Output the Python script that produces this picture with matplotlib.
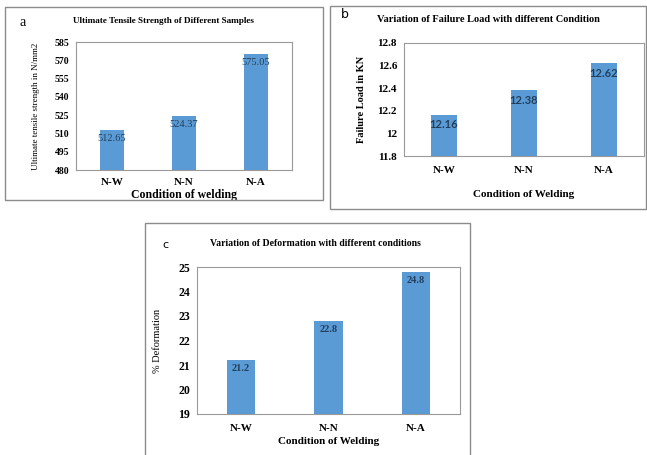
import matplotlib.pyplot as plt
from matplotlib.patches import Rectangle

# Data
conditions = ['N-W', 'N-N', 'N-A']
uts = [512.65, 524.37, 575.05]
uts_labels = ['512.65', '524.37', '575.05']
uts_ticks = [480, 495, 510, 525, 540, 555, 570, 585]
load = [12.16, 12.38, 12.62]
load_labels = ['12.16', '12.38', '12.62']
load_ticks = [11.8, 12.0, 12.2, 12.4, 12.6, 12.8]
load_ticklabels = ['11.8', '12', '12.2', '12.4', '12.6', '12.8']
deform = [21.2, 22.8, 24.8]
deform_labels = ['21.2', '22.8', '24.8']
deform_ticks = [19, 20, 21, 22, 23, 24, 25]

W, H = 647, 455
bar_color = '#5B9BD5'
lbl_color = '#22405E'
serif = 'Liberation Serif'

fig = plt.figure(figsize=(W / 100, H / 100), dpi=100)


def fx(x):
    return x / W


def fy(y):
    return 1 - y / H


def frame(x0, y0, x1, y1):
    fig.patches.append(Rectangle((fx(x0), fy(y1)), fx(x1) - fx(x0), fy(y0) - fy(y1),
                                 transform=fig.transFigure, fill=False,
                                 edgecolor='#8C8C8C', linewidth=1.0))


def panel(box, vals, labels, ticks, ticklabels, lab_font, lab_size, lab_weight,
          tick_size, xpad):
    x0, y0, x1, y1 = box
    ax = fig.add_axes([fx(x0), fy(y1), fx(x1) - fx(x0), fy(y0) - fy(y1)])
    xs = range(len(conditions))
    ax.bar(xs, vals, width=0.32, color=bar_color, zorder=2)
    ax.set_xlim(-0.5, len(conditions) - 0.5)
    ax.set_ylim(ticks[0], ticks[-1])
    ax.set_yticks(ticks)
    ax.set_yticklabels(ticklabels, fontfamily=serif, fontsize=tick_size,
                       fontweight='bold')
    ax.set_xticks(list(xs))
    ax.set_xticklabels(conditions, fontfamily=serif, fontsize=8, fontweight='bold')
    ax.tick_params(axis='y', length=0, pad=5)
    ax.tick_params(axis='x', length=0, pad=xpad)
    for s in ax.spines.values():
        s.set_color('#9A9A9A')
        s.set_linewidth(0.8)
    for x, v, t in zip(xs, vals, labels):
        ax.annotate(t, (x, v), xytext=(0, -3), textcoords='offset points',
                    ha='center', va='top', fontsize=lab_size, color=lbl_color,
                    fontfamily=lab_font, fontweight=lab_weight)
    return ax


# Panel a
frame(5, 7, 323, 200)
ax_a = panel((76, 42, 292, 170), uts, uts_labels, uts_ticks,
             [str(t) for t in uts_ticks], serif, 7.5, 'normal', 7, 6)
ax_a.set_xlabel('Condition of welding', fontfamily=serif, fontsize=8.5,
                fontweight='bold', labelpad=1)
ax_a.set_ylabel('Ultimate tensile strength in N/mm2', fontfamily=serif,
                fontsize=6.5, labelpad=10)
fig.text(fx(163), fy(21), 'Ultimate Tensile Strength of Different Samples',
         ha='center', va='center', fontfamily=serif, fontsize=6.6, fontweight='bold')
fig.text(fx(23), fy(22), 'a', ha='center', va='center', fontfamily=serif, fontsize=10)

# Panel b
frame(330, 6, 646, 209)
ax_b = panel((404, 43, 644, 156), load, load_labels, load_ticks,
             load_ticklabels, 'Lato', 8, 'bold', 8, 7)
ax_b.set_xlabel('Condition of Welding', fontfamily=serif, fontsize=8,
                fontweight='bold', labelpad=11)
ax_b.set_ylabel('Failure Load in KN', fontfamily=serif, fontsize=7.5,
                fontweight='bold', labelpad=8)
fig.text(fx(488), fy(19), 'Variation of Failure Load with different Condition',
         ha='center', va='center', fontfamily=serif, fontsize=7.5, fontweight='bold')
fig.text(fx(345), fy(15), 'b', ha='center', va='center', fontfamily='DejaVu Sans', fontsize=9)

# Panel c
frame(145, 223, 470, 460)
ax_c = panel((197, 267, 460, 414), deform, deform_labels, deform_ticks,
             [str(t) for t in deform_ticks], serif, 7.5, 'bold', 8.5, 7)
ax_c.set_xlabel('Condition of Welding', fontfamily=serif, fontsize=8,
                fontweight='bold', labelpad=3)
ax_c.set_ylabel('% Deformation', fontfamily=serif, fontsize=7.5, labelpad=12)
fig.text(fx(315), fy(244), 'Variation of Deformation with different conditions',
         ha='center', va='center', fontfamily=serif, fontsize=7, fontweight='bold')
fig.text(fx(165), fy(245), 'c', ha='center', va='center', fontfamily='DejaVu Sans', fontsize=8)

fig.savefig('out.png', dpi=100)
